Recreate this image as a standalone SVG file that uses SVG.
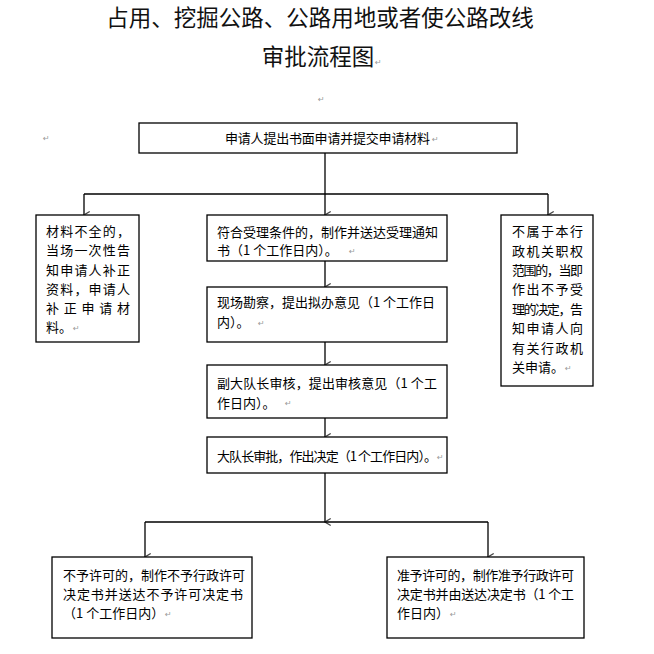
<svg xmlns="http://www.w3.org/2000/svg" width="654" height="654" viewBox="0 0 654 654">
<style>
  .box{fill:#fff;stroke:#000;stroke-width:1.3}
  .t{font-family:"Noto Sans CJK SC","Liberation Sans",sans-serif;font-size:13px;fill:#000}
  .title{font-family:"Noto Sans CJK SC","Liberation Sans",sans-serif;font-size:22.5px;fill:#111;text-anchor:middle}
  .pm{font-family:"DejaVu Sans",sans-serif;font-size:8px;fill:#999}
  .c{fill:none;stroke:#000;stroke-width:1.3}
</style>
<defs>
  <marker id="arr" markerUnits="userSpaceOnUse" markerWidth="10" markerHeight="8" refX="4" refY="6" orient="auto-start-reverse" viewBox="0 0 8 7">
    <path d="M1,1 L4,6 L7,1" fill="none" stroke="#444" stroke-width="1.1"/>
  </marker>
</defs>
<rect width="654" height="654" fill="#fff"/>

<g id="title">
  <text class="title" x="320" y="26">占用、挖掘公路、公路用地或者使公路改线</text>
  <text class="title" x="318" y="65">审批流程图</text>
  <text class="pm" x="375" y="65">↵</text>
  <text class="pm" x="318" y="102">↵</text>
  <text class="pm" x="43" y="141">↵</text>
</g>

<g id="connectors">
  <path class="c" d="M325,153 V194"/>
  <path class="c" d="M84,194 H548"/>
  <path class="c" d="M84,194 V215" marker-end="url(#arr)"/>
  <path class="c" d="M325,194 V215" marker-end="url(#arr)"/>
  <path class="c" d="M548,194 V215" marker-end="url(#arr)"/>
  <path class="c" d="M325,261 V287" marker-end="url(#arr)"/>
  <path class="c" d="M325,342 V365" marker-end="url(#arr)"/>
  <path class="c" d="M325,418 V437" marker-end="url(#arr)"/>
  <path class="c" d="M325,473 V522" marker-end="url(#arr)"/>
  <path class="c" d="M145,522 H488"/>
  <path class="c" d="M145,522 V557" marker-end="url(#arr)"/>
  <path class="c" d="M488,522 V557" marker-end="url(#arr)"/>
</g>

<g id="n-apply">
  <rect class="box" x="139" y="123" width="378" height="30"/>
  <text class="t" x="225" y="143" textLength="205" lengthAdjust="spacing">申请人提出书面申请并提交申请材料</text>
  <text class="pm" x="432" y="142">↵</text>
</g>

<g id="n-incomplete">
  <rect class="box" x="36" y="215" width="103" height="127"/>
  <text class="t" x="46" y="236" textLength="84" lengthAdjust="spacing">材料不全的，</text>
  <text class="t" x="46" y="255" textLength="84" lengthAdjust="spacing">当场一次性告</text>
  <text class="t" x="46" y="274.5" textLength="84" lengthAdjust="spacing">知申请人补正</text>
  <text class="t" x="46" y="293.5" textLength="84" lengthAdjust="spacing">资料，申请人</text>
  <text class="t" x="46" y="312.5" textLength="84" lengthAdjust="spacing">补正申请材</text>
  <text class="t" x="46" y="332">料。</text>
  <text class="pm" x="73" y="331">↵</text>
</g>

<g id="n-accept">
  <rect class="box" x="207" y="215" width="240" height="46"/>
  <text class="t" x="217" y="236.5" textLength="221" lengthAdjust="spacing">符合受理条件的，制作并送达受理通知</text>
  <text class="t" x="217" y="254.5">书（1 个工作日内）。</text>
  <text class="pm" x="349" y="254">↵</text>
</g>

<g id="n-reject">
  <rect class="box" x="501" y="215" width="92" height="171"/>
  <text class="t" x="512" y="236" textLength="71" lengthAdjust="spacing">不属于本行</text>
  <text class="t" x="512" y="255.5" textLength="71" lengthAdjust="spacing">政机关职权</text>
  <text class="t" x="512" y="274.5" textLength="71" lengthAdjust="spacing">范围的，当即</text>
  <text class="t" x="512" y="294" textLength="71" lengthAdjust="spacing">作出不予受</text>
  <text class="t" x="512" y="313.5" textLength="71" lengthAdjust="spacing">理的决定，告</text>
  <text class="t" x="512" y="333" textLength="71" lengthAdjust="spacing">知申请人向</text>
  <text class="t" x="512" y="352.5" textLength="71" lengthAdjust="spacing">有关行政机</text>
  <text class="t" x="512" y="371.5">关申请。</text>
  <text class="pm" x="565" y="371">↵</text>
</g>

<g id="n-survey">
  <rect class="box" x="207" y="287" width="240" height="55"/>
  <text class="t" x="217" y="306.5" textLength="218" lengthAdjust="spacing">现场勘察，提出拟办意见（1 个工作日</text>
  <text class="t" x="217" y="326.5">内）。</text>
  <text class="pm" x="258" y="326">↵</text>
</g>

<g id="n-deputy">
  <rect class="box" x="207" y="365" width="240" height="53"/>
  <text class="t" x="217" y="387.5" textLength="220" lengthAdjust="spacing">副大队长审核，提出审核意见（1 个工</text>
  <text class="t" x="217" y="407.5">作日内）。</text>
  <text class="pm" x="285" y="406">↵</text>
</g>

<g id="n-captain">
  <rect class="box" x="207" y="437" width="240" height="36"/>
  <text class="t" x="217" y="461" textLength="220" lengthAdjust="spacing">大队长审批，作出决定（1 个工作日内）。</text>
  <text class="pm" x="437" y="460">↵</text>
</g>

<g id="n-deny">
  <rect class="box" x="52" y="557" width="200" height="81"/>
  <text class="t" x="63" y="579.5" textLength="182" lengthAdjust="spacing">不予许可的，制作不予行政许可</text>
  <text class="t" x="63" y="599" textLength="180" lengthAdjust="spacing">决定书并送达不予许可决定书</text>
  <text class="t" x="63" y="617.5">（1 个工作日内）</text>
  <text class="pm" x="165" y="617">↵</text>
</g>

<g id="n-grant">
  <rect class="box" x="387" y="557" width="197" height="81"/>
  <text class="t" x="397" y="579.5" textLength="177" lengthAdjust="spacing">准予许可的，制作准予行政许可</text>
  <text class="t" x="397" y="599" textLength="177" lengthAdjust="spacing">决定书并由送达决定书（1 个工</text>
  <text class="t" x="397" y="617.5">作日内）</text>
  <text class="pm" x="450" y="617">↵</text>
</g>
</svg>
